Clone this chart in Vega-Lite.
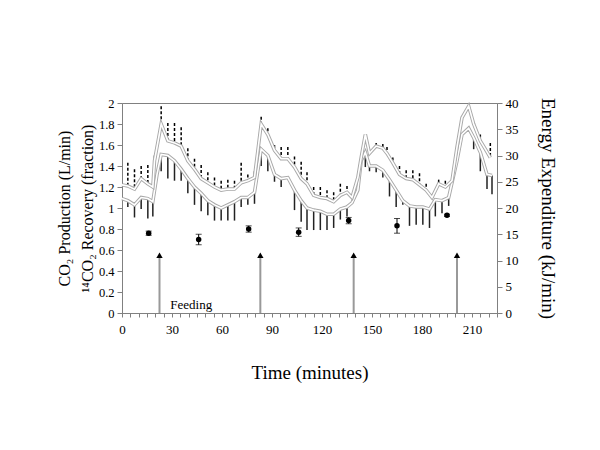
{
 "$schema": "https://vega.github.io/schema/vega-lite/v6.json",
 "width": 375, "height": 210,
 "autosize": {"type": "none"},
 "padding": {"left": 122, "top": 103, "right": 103, "bottom": 137},
 "background": "white",
 "config": {
  "font": "Liberation Serif",
  "view": {"stroke": "#808080", "strokeWidth": 1},
  "axis": {"labelFont": "Liberation Serif", "titleFont": "Liberation Serif", "labelFontSize": 13, "titleFontSize": 19, "titleFontWeight": "normal", "labelColor": "#000", "titleColor": "#000", "domainColor": "#808080", "tickColor": "#808080", "grid": false, "labelOverlap": false},
  "axisLeft": {"labelOverlap": false, "labelFontSize": 12.5, "tickSize": 5, "labelPadding": 3, "titlePadding": 3, "titleFontSize": 16, "titleLineHeight": 23, "format": "~g"}
 },
 "datasets": {
  "upper": [
   {"t": 0, "E": 24.4, "Etop": null}, {"t": 3.5, "E": 24.2, "Etop": 28.6}, {"t": 7.5, "E": 23.6, "Etop": 27.4},
   {"t": 11.5, "E": 25.6, "Etop": 28.0}, {"t": 15.5, "E": 24.6, "Etop": 28.2}, {"t": 18.5, "E": 24.0, "Etop": null},
   {"t": 19.5, "E": 29.0, "Etop": 30.0}, {"t": 23.5, "E": 36.0, "Etop": 39.4}, {"t": 27.5, "E": 32.8, "Etop": 36.2},
   {"t": 31.5, "E": 32.4, "Etop": 36.2}, {"t": 35.5, "E": 31.8, "Etop": 35.4}, {"t": 39.5, "E": 29.0, "Etop": 31.4},
   {"t": 43.5, "E": 27.4, "Etop": 29.4}, {"t": 47.5, "E": 25.6, "Etop": 28.2}, {"t": 51.5, "E": 24.8, "Etop": 26.8},
   {"t": 55.5, "E": 24.0, "Etop": 25.8}, {"t": 59.5, "E": 23.4, "Etop": 25.2}, {"t": 63.5, "E": 23.6, "Etop": 25.4},
   {"t": 67.5, "E": 23.6, "Etop": 25.2}, {"t": 71.5, "E": 24.8, "Etop": 28.6}, {"t": 75.5, "E": 25.2, "Etop": 26.4},
   {"t": 79.5, "E": 25.8, "Etop": 27.0}, {"t": 83.5, "E": 36.0, "Etop": 37.4}, {"t": 87.5, "E": 34.0, "Etop": 35.2},
   {"t": 91.5, "E": 31.0, "Etop": 32.0}, {"t": 95.5, "E": 29.4, "Etop": 31.6}, {"t": 99.5, "E": 29.4, "Etop": 31.6},
   {"t": 103.5, "E": 27.8, "Etop": 29.8}, {"t": 107.5, "E": 25.6, "Etop": 28.8}, {"t": 111.0, "E": 24.6, "Etop": 26.8},
   {"t": 115.0, "E": 22.4, "Etop": 24.0}, {"t": 119.0, "E": 22.0, "Etop": 24.0}, {"t": 123.0, "E": 21.8, "Etop": 23.4},
   {"t": 127.0, "E": 21.2, "Etop": 23.0}, {"t": 131.0, "E": 22.4, "Etop": 24.6}, {"t": 135.0, "E": 23.0, "Etop": 24.2},
   {"t": 138.0, "E": 22.0, "Etop": null}, {"t": 141.5, "E": 25.8, "Etop": 26.6}, {"t": 143.5, "E": 29.6, "Etop": null},
   {"t": 146.0, "E": 34.0, "Etop": null}, {"t": 148.5, "E": 30.4, "Etop": null}, {"t": 152.5, "E": 31.8, "Etop": 32.4},
   {"t": 156.5, "E": 31.4, "Etop": 32.2}, {"t": 159.0, "E": 30.4, "Etop": 31.6}, {"t": 162.5, "E": 28.6, "Etop": 29.6},
   {"t": 166.5, "E": 26.4, "Etop": 28.0}, {"t": 170.5, "E": 25.6, "Etop": 27.2}, {"t": 174.5, "E": 25.4, "Etop": 27.2},
   {"t": 178.5, "E": 24.4, "Etop": 26.6}, {"t": 182.5, "E": 23.4, "Etop": 24.6}, {"t": 186.0, "E": 22.0, "Etop": 22.6},
   {"t": 190.0, "E": 24.6, "Etop": 25.4}, {"t": 194.0, "E": 24.0, "Etop": 25.2}, {"t": 198.0, "E": 25.2, "Etop": 26.0},
   {"t": 201.0, "E": 31.6, "Etop": null}, {"t": 204.0, "E": 37.2, "Etop": null}, {"t": 208.0, "E": 39.4, "Etop": null},
   {"t": 211.0, "E": 36.0, "Etop": null}, {"t": 215.0, "E": 32.8, "Etop": 34.0}, {"t": 218.0, "E": 31.2, "Etop": null},
   {"t": 221.0, "E": 29.6, "Etop": 32.4}
  ],
  "lower": [
   {"t": 0, "C": 1.09, "Cbot": null}, {"t": 3.5, "C": 1.07, "Cbot": 1.01}, {"t": 7.5, "C": 1.03, "Cbot": 0.91},
   {"t": 11.5, "C": 1.10, "Cbot": 0.99}, {"t": 15.5, "C": 1.09, "Cbot": 0.90}, {"t": 18.5, "C": 1.06, "Cbot": 0.92},
   {"t": 21.0, "C": 1.32, "Cbot": null}, {"t": 23.5, "C": 1.51, "Cbot": 1.35}, {"t": 27.5, "C": 1.50, "Cbot": 1.28},
   {"t": 31.5, "C": 1.45, "Cbot": 1.26}, {"t": 35.5, "C": 1.37, "Cbot": 1.26}, {"t": 39.5, "C": 1.28, "Cbot": 1.14},
   {"t": 43.5, "C": 1.20, "Cbot": 1.03}, {"t": 47.5, "C": 1.14, "Cbot": 0.97}, {"t": 51.5, "C": 1.07, "Cbot": 0.93},
   {"t": 55.5, "C": 1.03, "Cbot": 0.88}, {"t": 59.5, "C": 1.00, "Cbot": 0.88}, {"t": 63.5, "C": 1.03, "Cbot": 0.88},
   {"t": 67.5, "C": 1.06, "Cbot": 0.88}, {"t": 71.5, "C": 1.10, "Cbot": 1.01}, {"t": 75.5, "C": 1.10, "Cbot": 1.03},
   {"t": 79.5, "C": 1.15, "Cbot": 1.04}, {"t": 83.5, "C": 1.56, "Cbot": 1.40}, {"t": 87.5, "C": 1.50, "Cbot": 1.35},
   {"t": 91.5, "C": 1.32, "Cbot": 1.25}, {"t": 95.5, "C": 1.28, "Cbot": 1.20}, {"t": 99.5, "C": 1.29, "Cbot": null},
   {"t": 103.5, "C": 1.17, "Cbot": 0.98}, {"t": 107.5, "C": 1.07, "Cbot": 0.87}, {"t": 111.0, "C": 1.00, "Cbot": 0.79},
   {"t": 115.0, "C": 0.98, "Cbot": 0.79}, {"t": 119.0, "C": 0.97, "Cbot": 0.79}, {"t": 123.0, "C": 0.94, "Cbot": 0.79},
   {"t": 127.0, "C": 0.94, "Cbot": 0.81}, {"t": 131.0, "C": 0.99, "Cbot": 0.89}, {"t": 135.0, "C": 1.01, "Cbot": 0.92},
   {"t": 138.0, "C": 1.05, "Cbot": null}, {"t": 141.5, "C": 1.17, "Cbot": null}, {"t": 143.5, "C": 1.45, "Cbot": null},
   {"t": 146.0, "C": 1.53, "Cbot": 1.39}, {"t": 148.5, "C": 1.40, "Cbot": 1.35}, {"t": 152.5, "C": 1.40, "Cbot": 1.34},
   {"t": 156.5, "C": 1.36, "Cbot": 1.29}, {"t": 160.5, "C": 1.27, "Cbot": 1.11}, {"t": 164.5, "C": 1.17, "Cbot": 1.01},
   {"t": 168.5, "C": 1.07, "Cbot": 1.03}, {"t": 172.5, "C": 1.02, "Cbot": 0.83}, {"t": 176.5, "C": 1.01, "Cbot": 0.84},
   {"t": 180.5, "C": 1.01, "Cbot": 0.84}, {"t": 184.5, "C": 0.99, "Cbot": 0.81}, {"t": 188.0, "C": 1.08, "Cbot": 0.92},
   {"t": 192.0, "C": 1.07, "Cbot": 0.95}, {"t": 196.0, "C": 1.10, "Cbot": 1.02}, {"t": 201.0, "C": 1.45, "Cbot": null},
   {"t": 204.0, "C": 1.70, "Cbot": null}, {"t": 208.0, "C": 1.76, "Cbot": null}, {"t": 211.0, "C": 1.67, "Cbot": 1.56},
   {"t": 215.0, "C": 1.53, "Cbot": 1.35}, {"t": 219.0, "C": 1.32, "Cbot": 1.18}, {"t": 222.0, "C": 1.31, "Cbot": 1.13}
  ],
  "recovery": [
   {"t": 16, "r": 0.76, "lo": 0.74, "hi": 0.78}, {"t": 46, "r": 0.70, "lo": 0.65, "hi": 0.75},
   {"t": 76, "r": 0.80, "lo": 0.77, "hi": 0.83}, {"t": 106, "r": 0.77, "lo": 0.73, "hi": 0.81},
   {"t": 136, "r": 0.88, "lo": 0.85, "hi": 0.91}, {"t": 165, "r": 0.83, "lo": 0.76, "hi": 0.90},
   {"t": 195, "r": 0.93, "lo": 0.92, "hi": 0.94}
  ],
  "feeding": [{"t": 22.5}, {"t": 83}, {"t": 139}, {"t": 201}],
  "label": [{"t": 29, "v": 0.08, "text": "Feeding"}]
 },
 "encoding": {
  "x": {"field": "t", "type": "quantitative", "scale": {"domain": [0, 225], "nice": false, "zero": false},
   "axis": {"title": "Time (minutes)", "values": [0,5,10,15,20,25,30,35,40,45,50,55,60,65,70,75,80,85,90,95,100,105,110,115,120,125,130,135,140,145,150,155,160,165,170,175,180,185,190,195,200,205,210,215,220,225],
    "labelExpr": "datum.value % 30 === 0 ? datum.label : ''", "tickSize": 4, "labelPadding": 6, "titlePadding": 27, "labelFlush": false, "labelOverlap": false}}
 },
 "layer": [
  {"layer": [
   {"data": {"name": "lower"}, "transform": [{"filter": "datum.Cbot != null"}],
    "mark": {"type": "rule", "color": "#222", "strokeWidth": 1.5},
    "encoding": {"y": {"field": "C", "type": "quantitative", "scale": {"domain": [0, 2], "nice": false},
      "axis": {"title": ["CO₂ Production (L/min)", "¹⁴CO₂ Recovery (fraction)"], "values": [0,0.2,0.4,0.6,0.8,1,1.2,1.4,1.6,1.8,2], "format": "~g", "labelOverlap": false}},
     "y2": {"field": "Cbot"}}},
   {"data": {"name": "lower"}, "mark": {"type": "line", "color": "#a8a8a8", "strokeWidth": 3.5},
    "encoding": {"y": {"field": "C", "type": "quantitative", "axis": {"title": ["CO₂ Production (L/min)", "¹⁴CO₂ Recovery (fraction)"], "values": [0,0.2,0.4,0.6,0.8,1,1.2,1.4,1.6,1.8,2], "format": "~g", "labelOverlap": false}}}},
   {"data": {"name": "lower"}, "mark": {"type": "line", "color": "#ffffff", "strokeWidth": 1.6},
    "encoding": {"y": {"field": "C", "type": "quantitative", "axis": {"title": ["CO₂ Production (L/min)", "¹⁴CO₂ Recovery (fraction)"], "values": [0,0.2,0.4,0.6,0.8,1,1.2,1.4,1.6,1.8,2], "format": "~g", "labelOverlap": false}}}},
   {"data": {"name": "recovery"}, "mark": {"type": "rule", "color": "#000", "strokeWidth": 1},
    "encoding": {"y": {"field": "lo", "type": "quantitative", "axis": {"title": ["CO₂ Production (L/min)", "¹⁴CO₂ Recovery (fraction)"], "values": [0,0.2,0.4,0.6,0.8,1,1.2,1.4,1.6,1.8,2], "format": "~g", "labelOverlap": false}}, "y2": {"field": "hi"}}},
   {"data": {"name": "recovery"}, "mark": {"type": "tick", "orient": "horizontal", "color": "#000", "size": 6, "thickness": 1},
    "encoding": {"y": {"field": "lo", "type": "quantitative", "axis": {"title": ["CO₂ Production (L/min)", "¹⁴CO₂ Recovery (fraction)"], "values": [0,0.2,0.4,0.6,0.8,1,1.2,1.4,1.6,1.8,2], "format": "~g", "labelOverlap": false}}}},
   {"data": {"name": "recovery"}, "mark": {"type": "tick", "orient": "horizontal", "color": "#000", "size": 6, "thickness": 1},
    "encoding": {"y": {"field": "hi", "type": "quantitative", "axis": {"title": ["CO₂ Production (L/min)", "¹⁴CO₂ Recovery (fraction)"], "values": [0,0.2,0.4,0.6,0.8,1,1.2,1.4,1.6,1.8,2], "format": "~g", "labelOverlap": false}}}},
   {"data": {"name": "recovery"}, "mark": {"type": "point", "filled": true, "color": "#000", "size": 30, "opacity": 1},
    "encoding": {"y": {"field": "r", "type": "quantitative", "axis": {"title": ["CO₂ Production (L/min)", "¹⁴CO₂ Recovery (fraction)"], "values": [0,0.2,0.4,0.6,0.8,1,1.2,1.4,1.6,1.8,2], "format": "~g", "labelOverlap": false}}}},
   {"data": {"name": "feeding"}, "mark": {"type": "rule", "color": "#999", "strokeWidth": 2},
    "encoding": {"y": {"datum": 0, "type": "quantitative", "axis": {"title": ["CO₂ Production (L/min)", "¹⁴CO₂ Recovery (fraction)"], "values": [0,0.2,0.4,0.6,0.8,1,1.2,1.4,1.6,1.8,2], "format": "~g", "labelOverlap": false}}, "y2": {"datum": 0.53}}},
   {"data": {"name": "feeding"}, "mark": {"type": "point", "shape": "triangle-up", "filled": true, "color": "#000", "size": 40, "opacity": 1},
    "encoding": {"y": {"datum": 0.55, "type": "quantitative", "axis": {"title": ["CO₂ Production (L/min)", "¹⁴CO₂ Recovery (fraction)"], "values": [0,0.2,0.4,0.6,0.8,1,1.2,1.4,1.6,1.8,2], "format": "~g", "labelOverlap": false}}}},
   {"data": {"name": "label"}, "mark": {"type": "text", "align": "left", "baseline": "middle", "fontSize": 13, "font": "Liberation Serif", "color": "#000"},
    "encoding": {"y": {"field": "v", "type": "quantitative", "axis": {"title": ["CO₂ Production (L/min)", "¹⁴CO₂ Recovery (fraction)"], "values": [0,0.2,0.4,0.6,0.8,1,1.2,1.4,1.6,1.8,2], "format": "~g", "labelOverlap": false}}, "text": {"field": "text"}}}
  ]},
  {"layer": [
   {"data": {"name": "upper"}, "transform": [{"filter": "datum.Etop != null"}],
    "mark": {"type": "rule", "color": "#000", "strokeWidth": 1.5, "strokeDash": [3, 2]},
    "encoding": {"y": {"field": "Etop", "type": "quantitative", "scale": {"domain": [0, 40], "nice": false},
      "axis": {"orient": "right", "title": "Energy Expenditure (kJ/min)", "values": [0,5,10,15,20,25,30,35,40], "labelOverlap": false, "tickSize": 5, "labelPadding": 3, "titlePadding": 19}},
     "y2": {"field": "E"}}},
   {"data": {"name": "upper"}, "mark": {"type": "line", "color": "#a8a8a8", "strokeWidth": 3.5},
    "encoding": {"y": {"field": "E", "type": "quantitative", "axis": {"orient": "right", "title": "Energy Expenditure (kJ/min)", "values": [0,5,10,15,20,25,30,35,40], "labelOverlap": false, "tickSize": 5, "labelPadding": 3, "titlePadding": 19}}}},
   {"data": {"name": "upper"}, "mark": {"type": "line", "color": "#ffffff", "strokeWidth": 1.6},
    "encoding": {"y": {"field": "E", "type": "quantitative", "axis": {"orient": "right", "title": "Energy Expenditure (kJ/min)", "values": [0,5,10,15,20,25,30,35,40], "labelOverlap": false, "tickSize": 5, "labelPadding": 3, "titlePadding": 19}}}}
  ]}
 ],
 "resolve": {"scale": {"y": "independent"}}
}
